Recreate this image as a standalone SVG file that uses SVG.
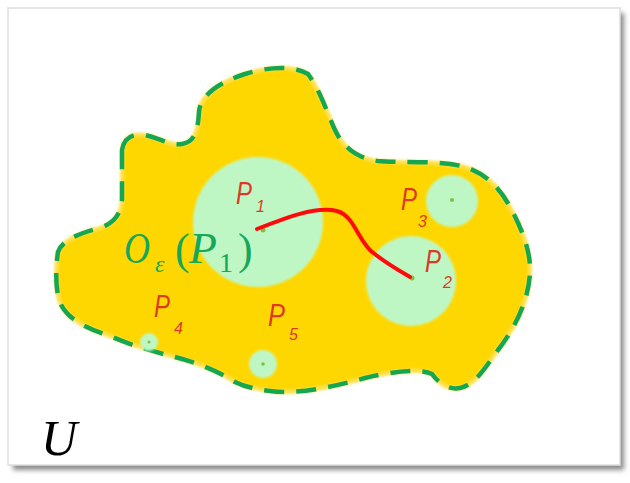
<svg xmlns="http://www.w3.org/2000/svg" width="630" height="483" viewBox="0 0 630 483">
  <defs>
    <filter id="shadow" x="-5%" y="-5%" width="115%" height="115%">
      <feGaussianBlur stdDeviation="2.5"/>
    </filter>
    <filter id="soft" x="-10%" y="-10%" width="120%" height="120%">
      <feGaussianBlur stdDeviation="1.2"/>
    </filter>
    <style>
      .nb { fill: #bff7c4; filter: url(#soft); }
      .dot { fill: #7cc142; }
      .lab { font-family: "Liberation Sans", "DejaVu Sans", sans-serif; font-style: italic; fill: #dc3a26; }
      .math { font-family: "Liberation Serif", "DejaVu Serif", serif; fill: #16a85a; }
    </style>
  </defs>

  <rect width="630" height="483" fill="#ffffff"/>
  <!-- frame with shadow -->
  <rect x="13" y="13" width="611" height="457" fill="#8a8a8a" filter="url(#shadow)"/>
  <rect x="8" y="8" width="612" height="457" fill="#ffffff" stroke="#dedede" stroke-width="1.5"/>

  <g id="region">
    <path id="region-fill" d="M122,150 C124,138 132,133 145,135 C160,138 170,146 182,144 C195,142 198,130 199,112 C200,95 220,82 245,74 C265,68 290,64 308,74 C320,90 328,115 335,130 C342,145 355,158 378,161 C400,163 440,160 465,167 C485,173 500,188 510,207 C520,225 531,250 530,272 C529,300 515,328 498,350 C485,368 475,385 460,388 C450,390 440,385 432,374 C420,368 390,372 365,378 C340,385 300,395 270,391 C255,389 245,387 235,382 C220,372 195,362 175,357 C155,352 130,345 110,336 C85,328 65,318 59,300 C55,285 56,265 58,252 C62,240 80,233 100,228 C115,223 122,212 122,198 Z" fill="#ffd700" stroke="#ffe14d" stroke-width="4" filter="url(#soft)"/>
    <path d="M122,150 C124,138 132,133 145,135 C160,138 170,146 182,144 C195,142 198,130 199,112 C200,95 220,82 245,74 C265,68 290,64 308,74 C320,90 328,115 335,130 C342,145 355,158 378,161 C400,163 440,160 465,167 C485,173 500,188 510,207 C520,225 531,250 530,272 C529,300 515,328 498,350 C485,368 475,385 460,388 C450,390 440,385 432,374 C420,368 390,372 365,378 C340,385 300,395 270,391 C255,389 245,387 235,382 C220,372 195,362 175,357 C155,352 130,345 110,336 C85,328 65,318 59,300 C55,285 56,265 58,252 C62,240 80,233 100,228 C115,223 122,212 122,198 Z" fill="none" stroke="#14a650" stroke-width="4.5" stroke-dasharray="20 12"/>
  </g>

  <g id="node-P1">
    <circle class="nb" cx="258" cy="222" r="65"/>
    <circle class="dot" cx="263" cy="230" r="2.5"/>
    <text class="lab" x="236" y="204" font-size="31" textLength="16" lengthAdjust="spacingAndGlyphs">P</text>
    <text class="lab" x="256" y="212" font-size="16">1</text>
  </g>
  <g id="node-P2">
    <circle class="nb" cx="411" cy="281" r="45"/>
    <circle class="dot" cx="412" cy="278" r="2.5"/>
    <text class="lab" x="425" y="272" font-size="31" textLength="16" lengthAdjust="spacingAndGlyphs">P</text>
    <text class="lab" x="443" y="288" font-size="16">2</text>
  </g>
  <g id="node-P3">
    <circle class="nb" cx="452" cy="201" r="26"/>
    <circle class="dot" cx="452" cy="200" r="2"/>
    <text class="lab" x="401" y="210" font-size="31" textLength="16" lengthAdjust="spacingAndGlyphs">P</text>
    <text class="lab" x="418" y="227" font-size="16">3</text>
  </g>
  <g id="node-P4">
    <circle class="nb" cx="149" cy="342" r="9"/>
    <circle class="dot" cx="149" cy="342" r="1.5"/>
    <text class="lab" x="154" y="317" font-size="31" textLength="16" lengthAdjust="spacingAndGlyphs">P</text>
    <text class="lab" x="174" y="334" font-size="16">4</text>
  </g>
  <g id="node-P5">
    <circle class="nb" cx="263" cy="364" r="14"/>
    <circle class="dot" cx="263" cy="364" r="1.8"/>
    <text class="lab" x="268" y="326" font-size="31" textLength="17" lengthAdjust="spacingAndGlyphs">P</text>
    <text class="lab" x="289" y="340" font-size="16">5</text>
  </g>

  <g id="connectors">
    <path d="M257,229 C285,218 315,206 337,211 C354,216 357,238 371,251 C384,262 398,270 410,277" fill="none" stroke="#ff0a0a" stroke-width="4" stroke-linecap="round"/>
  </g>

  <g id="label-neighbourhood">
    <text class="math" x="124" y="263" font-size="44" font-style="italic" textLength="26" lengthAdjust="spacingAndGlyphs">O</text>
    <text class="math" x="155" y="272" font-size="24" font-style="italic">ε</text>
    <text class="math" x="175" y="264" font-size="44">(</text>
    <text class="math" x="189" y="263" font-size="44" font-style="italic" textLength="28" lengthAdjust="spacingAndGlyphs">P</text>
    <text class="math" x="219" y="272" font-size="28">1</text>
    <text class="math" x="238" y="264" font-size="44">)</text>
  </g>

  <g id="label-U">
    <text x="41" y="455" font-family="Liberation Serif, DejaVu Serif, serif" font-style="italic" font-size="50" fill="#000000">U</text>
  </g>
</svg>
